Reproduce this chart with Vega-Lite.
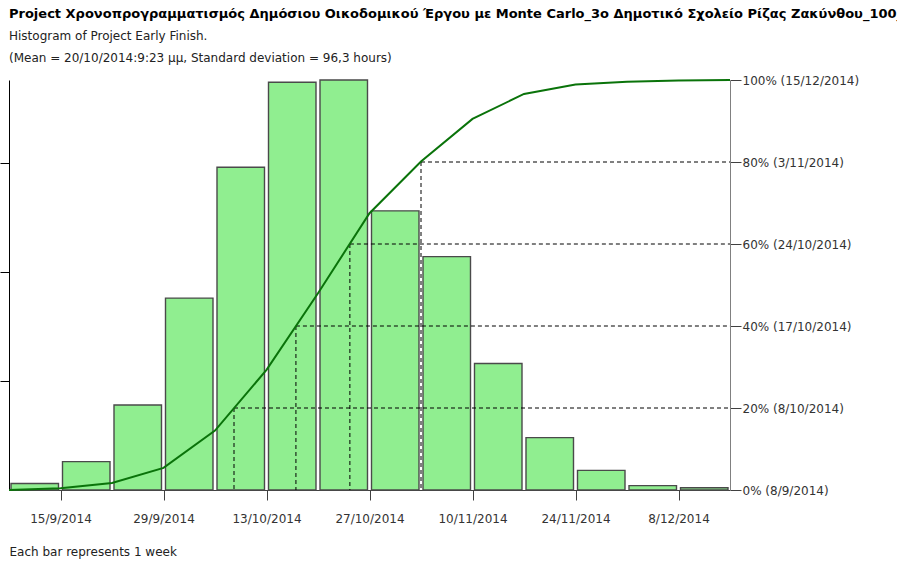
{
  "$schema": "https://vega.github.io/schema/vega-lite/v6.json",
  "autosize": {"type": "none"},
  "width": 721,
  "height": 410,
  "padding": {"left": 9, "top": 80, "right": 167, "bottom": 75},
  "background": "white",
  "config": {
    "view": {"stroke": null},
    "font": "DejaVu Sans",
    "axisX": {
      "format": "%-d/%-m/%Y",
      "labelFontSize": 12,
      "labelColor": "#333333",
      "tickSize": 10,
      "labelPadding": 13,
      "domainColor": "#404040",
      "tickColor": "#404040",
      "grid": false,
      "labelFlush": false,
      "titleAnchor": "start",
      "titleFontWeight": "normal",
      "titleFontSize": 12,
      "titleColor": "#222222",
      "titlePadding": 22
    }
  },
  "title": {
    "text": "Project Χρονοπρογραμματισμός Δημόσιου Οικοδομικού Έργου με Monte Carlo_3ο Δημοτικό Σχολείο Ρίζας Ζακύνθου_100_",
    "subtitle": ["Histogram of Project Early Finish.", "(Mean = 20/10/2014:9:23 μμ, Standard deviation = 96,3 hours)"],
    "anchor": "start",
    "frame": "group",
    "fontSize": 13,
    "fontWeight": "bold",
    "color": "#000000",
    "subtitleFontSize": 12,
    "subtitleColor": "#222222",
    "subtitleLineHeight": 22,
    "subtitlePadding": 10,
    "offset": 10
  },
  "datasets": {
    "weeks": [
      {"start": "2014-09-08T00:00:00Z", "end": "2014-09-15T00:00:00Z", "count": 3},
      {"start": "2014-09-15T00:00:00Z", "end": "2014-09-22T00:00:00Z", "count": 13},
      {"start": "2014-09-22T00:00:00Z", "end": "2014-09-29T00:00:00Z", "count": 39},
      {"start": "2014-09-29T00:00:00Z", "end": "2014-10-06T00:00:00Z", "count": 88},
      {"start": "2014-10-06T00:00:00Z", "end": "2014-10-13T00:00:00Z", "count": 148},
      {"start": "2014-10-13T00:00:00Z", "end": "2014-10-20T00:00:00Z", "count": 187},
      {"start": "2014-10-20T00:00:00Z", "end": "2014-10-27T00:00:00Z", "count": 188},
      {"start": "2014-10-27T00:00:00Z", "end": "2014-11-03T00:00:00Z", "count": 128},
      {"start": "2014-11-03T00:00:00Z", "end": "2014-11-10T00:00:00Z", "count": 107},
      {"start": "2014-11-10T00:00:00Z", "end": "2014-11-17T00:00:00Z", "count": 58},
      {"start": "2014-11-17T00:00:00Z", "end": "2014-11-24T00:00:00Z", "count": 24},
      {"start": "2014-11-24T00:00:00Z", "end": "2014-12-01T00:00:00Z", "count": 9},
      {"start": "2014-12-01T00:00:00Z", "end": "2014-12-08T00:00:00Z", "count": 2},
      {"start": "2014-12-08T00:00:00Z", "end": "2014-12-15T00:00:00Z", "count": 1}
    ],
    "cumulative": [
      {"date": "2014-09-08T00:00:00Z", "pct": 0},
      {"date": "2014-09-15T00:00:00Z", "pct": 0.4},
      {"date": "2014-09-22T00:00:00Z", "pct": 1.7},
      {"date": "2014-09-29T00:00:00Z", "pct": 5.4},
      {"date": "2014-10-06T00:00:00Z", "pct": 14.5},
      {"date": "2014-10-13T00:00:00Z", "pct": 29.3},
      {"date": "2014-10-20T00:00:00Z", "pct": 48},
      {"date": "2014-10-27T00:00:00Z", "pct": 67.5},
      {"date": "2014-11-03T00:00:00Z", "pct": 80.1},
      {"date": "2014-11-10T00:00:00Z", "pct": 90.5},
      {"date": "2014-11-17T00:00:00Z", "pct": 96.6},
      {"date": "2014-11-24T00:00:00Z", "pct": 98.9},
      {"date": "2014-12-01T00:00:00Z", "pct": 99.6},
      {"date": "2014-12-08T00:00:00Z", "pct": 99.9},
      {"date": "2014-12-15T00:00:00Z", "pct": 100}
    ],
    "percentiles": [
      {"date": "2014-10-08T14:00:00Z", "end": "2014-12-15T00:00:00Z", "pct": 20},
      {"date": "2014-10-17T00:00:00Z", "end": "2014-12-15T00:00:00Z", "pct": 40},
      {"date": "2014-10-24T08:00:00Z", "end": "2014-12-15T00:00:00Z", "pct": 60},
      {"date": "2014-11-03T00:00:00Z", "end": "2014-12-15T00:00:00Z", "pct": 80}
    ]
  },
  "layer": [
    {
      "data": {"name": "weeks"},
      "mark": {"type": "bar", "fill": "#90EE90", "stroke": "#4a4a4a", "strokeWidth": 1.4, "xOffset": 2, "x2Offset": -2},
      "encoding": {
        "x": {
          "field": "start",
          "type": "temporal",
          "title": "Each bar represents 1 week",
          "scale": {"type": "utc", "domain": [{"year": 2014, "month": 9, "date": 8, "utc": true}, {"year": 2014, "month": 12, "date": 15, "utc": true}]},
          "axis": {
            "values": [
              {"year": 2014, "month": 9, "date": 15, "utc": true},
              {"year": 2014, "month": 9, "date": 29, "utc": true},
              {"year": 2014, "month": 10, "date": 13, "utc": true},
              {"year": 2014, "month": 10, "date": 27, "utc": true},
              {"year": 2014, "month": 11, "date": 10, "utc": true},
              {"year": 2014, "month": 11, "date": 24, "utc": true},
              {"year": 2014, "month": 12, "date": 8, "utc": true}
            ]
          }
        },
        "x2": {"field": "end"},
        "y": {
          "field": "count",
          "type": "quantitative",
          "scale": {"domain": [0, 188], "nice": false},
          "axis": {"orient": "left", "values": [50, 100, 150], "labels": false, "title": null, "tickSize": 9, "tickColor": "#000000", "domainColor": "#000000", "grid": false}
        },
        "y2": {"datum": 0}
      }
    },
    {
      "layer": [
        {
          "data": {"name": "percentiles"},
          "mark": {"type": "rule", "color": "#000000", "strokeWidth": 1, "strokeDash": [4, 3]},
          "encoding": {
            "x": {"field": "date", "type": "temporal", "title": "Each bar represents 1 week"},
            "x2": {"field": "end"},
            "y": {"field": "pct", "type": "quantitative"}
          }
        },
        {
          "data": {"name": "percentiles"},
          "mark": {"type": "rule", "color": "#000000", "strokeWidth": 1, "strokeDash": [4, 3]},
          "encoding": {
            "x": {"field": "date", "type": "temporal", "title": "Each bar represents 1 week"},
            "y": {"field": "pct", "type": "quantitative"},
            "y2": {"datum": 0}
          }
        },
        {
          "data": {"name": "cumulative"},
          "mark": {"type": "line", "color": "#0a730a", "strokeWidth": 2},
          "encoding": {
            "x": {"field": "date", "type": "temporal", "title": "Each bar represents 1 week"},
            "y": {
              "field": "pct",
              "type": "quantitative",
              "scale": {"domain": [0, 100], "nice": false},
              "axis": {
                "orient": "right",
                "values": [0, 20, 40, 60, 80, 100],
                "title": null,
                "grid": false,
                "tickSize": 11,
                "labelPadding": 1,
                "tickColor": "#404040",
                "domainColor": "#808080",
                "labelFontSize": 12,
                "labelColor": "#333333",
                "labelExpr": "datum.value === 0 ? '0% (8/9/2014)' : datum.value === 20 ? '20% (8/10/2014)' : datum.value === 40 ? '40% (17/10/2014)' : datum.value === 60 ? '60% (24/10/2014)' : datum.value === 80 ? '80% (3/11/2014)' : '100% (15/12/2014)'"
              }
            }
          }
        }
      ]
    }
  ],
  "resolve": {"scale": {"y": "independent"}}
}
